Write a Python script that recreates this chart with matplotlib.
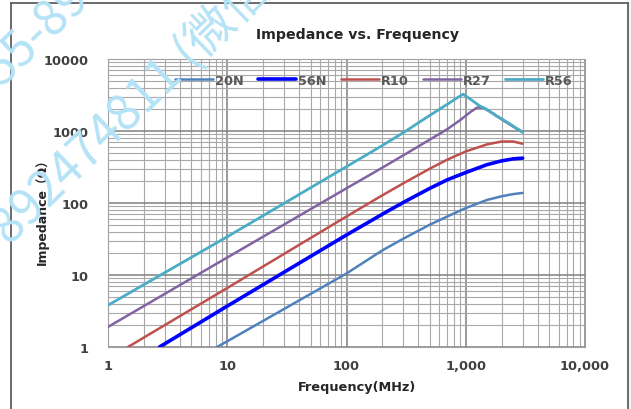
import numpy as np
import matplotlib
matplotlib.use("Agg")
import matplotlib.pyplot as plt
from matplotlib.lines import Line2D
from matplotlib.patches import Rectangle
from matplotlib.ticker import FixedLocator, LogLocator, NullFormatter

# Datos (frecuencia en MHz, impedancia en ohm)
f_20n = [8.2, 10, 100, 200, 300, 500, 700, 1000, 1500, 2000, 2500, 3000]
z_20n = [1.0, 1.2, 10.5, 22, 32, 50, 65, 85, 110, 124, 133, 138]

f_56n = [2.7, 10, 100, 200, 300, 500, 700, 1000, 1500, 2000, 2500, 3000]
z_56n = [1.0, 3.7, 36, 70, 102, 160, 210, 265, 340, 385, 410, 420]

f_r10 = [1.47, 10, 100, 200, 300, 500, 700, 1000, 1500, 2000, 2500, 3000]
z_r10 = [1.0, 6.6, 65, 128, 188, 300, 400, 520, 650, 715, 715, 665]

f_r27 = [1, 10, 100, 200, 300, 500, 700, 900, 1100, 1250, 1400, 1700, 2000, 2500, 3000]
z_r27 = [1.9, 17.5, 160, 310, 460, 760, 1060, 1420, 1850, 2120, 2100, 1750, 1450, 1150, 960]

f_r56 = [1, 10, 100, 200, 300, 500, 700, 850, 950, 1100, 1300, 1500, 1800, 2000, 2500, 3000]
z_r56 = [3.8, 34, 320, 630, 950, 1650, 2350, 2900, 3250, 2750, 2250, 2000, 1620, 1480, 1170, 960]

series_names = ["20N", "56N", "R10", "R27", "R56"]
series_colors = ["#4f81bd", "#0000ff", "#c0504d", "#8064a2", "#4bacc6"]
series_widths = [1.8, 2.6, 1.8, 1.8, 2.0]

x_ticks = [1, 10, 100, 1000, 10000]
x_tick_labels = ["1", "10", "100", "1,000", "10,000"]
y_ticks = [1, 10, 100, 1000, 10000]
y_tick_labels = ["1", "10", "100", "1000", "10000"]

plt.rcParams["font.family"] = ["DejaVu Sans", "Noto Sans CJK SC"]

fig = plt.figure(figsize=(6.31, 4.10), dpi=100)
fig.patch.set_facecolor("white")

# marco exterior
W, H = 631, 410
fig.add_artist(Rectangle((629 / W, 0), 2 / W, 1, transform=fig.transFigure,
                         facecolor="#f2f4f7", edgecolor="none"))
frame_kw = dict(transform=fig.transFigure, color="#5f5f5f", lw=1.3)
fig.add_artist(Line2D([11 / W, 11 / W], [0, 1 - 4 / H], **frame_kw))
fig.add_artist(Line2D([11 / W, 628 / W], [1 - 4 / H, 1 - 4 / H], **frame_kw))
fig.add_artist(Line2D([628 / W, 628 / W], [0, 1 - 4 / H], **frame_kw))

ax = fig.add_axes([108 / W, 1 - 348 / H, 477 / W, 288 / H])
ax.set_xscale("log")
ax.set_yscale("log")
ax.set_xlim(1, 10000)
ax.set_ylim(1, 10000)

datos = [(f_20n, z_20n), (f_56n, z_56n), (f_r10, z_r10), (f_r27, z_r27), (f_r56, z_r56)]
for (f, z), name, col, lw in zip(datos, series_names, series_colors, series_widths):
    ax.plot(f, z, color=col, lw=lw, label=name, solid_capstyle="round", zorder=3)

ax.xaxis.set_major_locator(FixedLocator(x_ticks))
ax.set_xticklabels(x_tick_labels)
ax.yaxis.set_major_locator(FixedLocator(y_ticks))
ax.set_yticklabels(y_tick_labels)
for axis in (ax.xaxis, ax.yaxis):
    axis.set_minor_locator(LogLocator(base=10, subs=np.arange(2, 10)))
    axis.set_minor_formatter(NullFormatter())

ax.grid(True, which="major", color="#808080", lw=1.1)
ax.grid(True, which="minor", color="#a8a8a8", lw=0.8)
ax.set_axisbelow(True)
ax.tick_params(which="both", length=0)
ax.tick_params(axis="y", pad=14, labelsize=9.3, labelcolor="#404040")
ax.tick_params(axis="x", pad=9, labelsize=9.3, labelcolor="#404040")
for lab in ax.get_xticklabels() + ax.get_yticklabels():
    lab.set_fontweight("bold")
for s in ax.spines.values():
    s.set_color("#a0a0a0")
    s.set_linewidth(0.8)

fig.text(358 / W, 1 - 35 / H, "Impedance vs. Frequency", ha="center", va="center",
         fontsize=10.2, fontweight="bold", color="#262626")
fig.text(357 / W, 1 - 388 / H, "Frequency(MHz)", ha="center", va="center",
         fontsize=9.3, fontweight="bold", color="#262626")
fig.text(42 / W, 1 - 209 / H, "Impedance（Ω）", ha="center", va="center",
         rotation=90, fontsize=9, fontweight="bold", color="#262626")

leg = ax.legend(ncol=5, loc="center", bbox_to_anchor=(0.558, 0.927), frameon=False,
                handlelength=2.95, handletextpad=0.15, columnspacing=1.1,
                prop={"size": 9.3, "weight": "bold"})
for t in leg.get_texts():
    t.set_color("#595959")

# marca de agua
wm = dict(fontsize=35, color="#b4e2f6", rotation=44, family=["Noto Sans CJK SC"],
          rotation_mode="anchor", ha="left", va="baseline", zorder=10)
fig.text(2 / W, 1 - 88 / H, "55-8924", **wm)
fig.text(9 / W, 1 - 246 / H, "892474811 (微信同号)", **wm)

fig.savefig("out.png", dpi=100)
